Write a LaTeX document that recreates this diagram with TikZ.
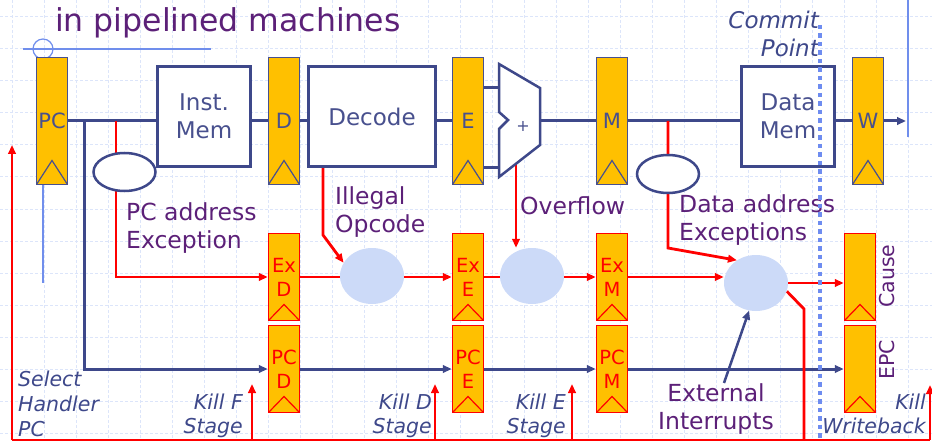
\documentclass[tikz,border=0pt]{standalone}
\usepackage{fontspec}
\setmainfont{DejaVu Sans}
\usetikzlibrary{positioning,shapes.geometric,arrows.meta}
\pgfdeclarelayer{grid}
\pgfdeclarelayer{wires}
\pgfsetlayers{grid,wires,main}
\definecolor{wireblue}{RGB}{62,72,138}
\definecolor{regtext}{RGB}{72,80,142}
\definecolor{labpurple}{RGB}{92,32,120}
\definecolor{regorange}{RGB}{255,192,0}
\definecolor{circblue}{RGB}{204,218,248}
\definecolor{gridblue}{RGB}{220,229,250}
\definecolor{guideblue}{RGB}{112,142,236}
\definecolor{commitblue}{RGB}{110,140,240}
\definecolor{excred}{RGB}{255,0,0}

\begin{document}
\begin{tikzpicture}[x=1pt,y=-1pt,
  wire/.style={draw=wireblue,line width=3pt},
  exc/.style={draw=excred,line width=2.8pt},
  tip/.style={-{Triangle[length=9pt,width=7.5pt]}},
  unit/.style={rectangle,draw=wireblue,line width=3pt,fill=white,minimum height=100pt,inner sep=0pt,text=regtext,align=center,font=\fontsize{23}{28}\selectfont},
  regtop/.style={rectangle,draw=regtext,line width=1.5pt,fill=regorange,minimum width=31pt,minimum height=127pt,inner sep=0pt,text=regtext,font=\fontsize{21}{24}\selectfont,
    path picture={\draw[regtext,line width=1.2pt] (path picture bounding box.south west) -- ([yshift=24pt]path picture bounding box.south) -- (path picture bounding box.south east);}},
  regexc/.style={rectangle,draw=excred,line width=1.5pt,fill=regorange,minimum width=31pt,minimum height=87pt,inner sep=0pt,text=excred,align=center,font=\fontsize{19.5}{24}\selectfont,
    path picture={\draw[excred,line width=1.2pt] (path picture bounding box.south west) -- ([yshift=16pt]path picture bounding box.south) -- (path picture bounding box.south east);}},
  check/.style={ellipse,draw=wireblue,line width=2.5pt,fill=white,minimum width=62pt,minimum height=38pt,inner sep=0pt},
  merge/.style={ellipse,fill=circblue,minimum width=64pt,minimum height=56pt,inner sep=0pt},
  lbl/.style={inner sep=0pt,text=labpurple,align=left,font=\fontsize{23.5}{28}\selectfont},
  killlbl/.style={inner sep=0pt,text=wireblue,align=right,font=\fontsize{20.5}{24}\selectfont\itshape}]
\useasboundingbox (0,0) rectangle (932,441);

\begin{pgfonlayer}{grid}
  \foreach \gx in {12,44,...,908}
    \draw[gridblue,line width=1pt,dash pattern=on 3pt off 2pt] (\gx,0) -- (\gx,441);
  \foreach \gy in {17,49,...,433}
    \draw[gridblue,line width=1pt,dash pattern=on 3pt off 2pt] (0,\gy) -- (932,\gy);
  \draw[guideblue,line width=1.2pt] (23,49) -- (211,49);
  \draw[guideblue,line width=1.2pt] (43,49) circle (10);
  \draw[guideblue,line width=1.2pt] (43,184) -- (43,283);
  \draw[guideblue,line width=1.2pt] (908,0) -- (908,137);
\end{pgfonlayer}

\node[anchor=base west,inner sep=0pt,text=labpurple,font=\fontsize{31.5}{36}\selectfont] (title) at (55,32) {in pipelined machines};

\node[regtop] (pc) at (52,121) {PC};
\node[unit,minimum width=93pt] (instmem) at (204,116.5) {Inst.\\Mem};
\node[regtop] (dreg) at (284,121) {D};
\node[unit,minimum width=127pt] (decode) at (372,116.5) {Decode};
\node[regtop] (ereg) at (468,121) {E};
\node[regtop] (mreg) at (612,121) {M};
\node[unit,minimum width=93pt] (datamem) at (788,116.5) {Data\\Mem};
\node[regtop] (wreg) at (868,121) {W};

\draw[wireblue,line width=2.5pt,fill=white] (499,64) -- (540,88) -- (540,145) -- (499,177) -- (499,129) -- (508,120) -- (499,112) -- cycle;
\node[text=regtext,font=\fontsize{16}{18}\selectfont,inner sep=0pt] (plus) at (523,126) {+};
\coordinate (aluin1) at (499,88);
\coordinate (aluin2) at (499,168);
\coordinate (aluout) at (540,121);

\node[regexc] (exd) at (284,277) {Ex\\D};
\node[regexc] (exe) at (468,277) {Ex\\E};
\node[regexc] (exm) at (612,277) {Ex\\M};
\node[regexc] (cause) at (860,277) {};
\node[regexc] (pcd) at (284,369) {PC\\D};
\node[regexc] (pce) at (468,369) {PC\\E};
\node[regexc] (pcm) at (612,369) {PC\\M};
\node[regexc] (epc) at (860,369) {};
\node[lbl,rotate=90,font=\fontsize{20.5}{24}\selectfont] (causelbl) at (887,276) {Cause};
\node[lbl,rotate=90,font=\fontsize{20.5}{24}\selectfont] (epclbl) at (887,360) {EPC};

\node[check] (pcchk) at (124.5,172) {};
\node[check] (dachk) at (668,174) {};
\node[merge] (c1) at (372,276) {};
\node[merge] (c2) at (532,276) {};
\node[merge] (c3) at (756,283) {};

\node[lbl,anchor=north west] (lblpcx) at (126,202) {PC address\\Exception};
\node[lbl,anchor=north west] (lblill) at (335,186) {Illegal\\Opcode};
\node[lbl,anchor=north west] (lblovf) at (520,196) {Overflow};
\node[lbl,anchor=north west] (lbldax) at (679,194) {Data address\\Exceptions};
\node[lbl,anchor=north,align=center] (lblext) at (716,383) {External\\Interrupts};
\node[killlbl,anchor=north east,font=\fontsize{23}{28}\selectfont\itshape] (lblcommit) at (819,11) {Commit\\Point};
\node[killlbl,anchor=north west,align=left,font=\fontsize{20.5}{25}\selectfont\itshape] (lblsel) at (18,371) {Select\\Handler\\PC};
\node[killlbl,anchor=north east] (lblkf) at (243,394) {Kill F\\Stage};
\node[killlbl,anchor=north east] (lblkd) at (432,394) {Kill D\\Stage};
\node[killlbl,anchor=north east] (lblke) at (566,394) {Kill E\\Stage};
\node[killlbl,anchor=north east] (lblkw) at (926,394) {Kill\\Writeback};

\coordinate (pctap) at (84,121);
\coordinate (pcxtap) at (116,121);
\coordinate (illtap) at (323,168);
\coordinate (illbend) at (323,235);
\coordinate (ovftap) at (516,164);
\coordinate (datap) at (668,121);
\coordinate (dabend) at (668,248);
\coordinate (wout) at (906,121);
\coordinate (kwbend) at (804,309);
\coordinate (busl) at (12,440);
\coordinate (busr) at (930,440);
\coordinate (selpc) at (12,145);
\coordinate (kf) at (252,384);
\coordinate (kd) at (435,384);
\coordinate (ke) at (572,384);
\coordinate (kw) at (930,385);

\begin{pgfonlayer}{wires}
  \draw[wire] (pc.east) -- (pc.east -| instmem.west);
  \draw[wire] (instmem.east |- dreg.west) -- (dreg.west);
  \draw[wire] (dreg.east) -- (dreg.east -| decode.west);
  \draw[wire] (decode.east |- ereg.west) -- (ereg.west);
  \draw[wire] (ereg.east |- aluin1) -- (aluin1);
  \draw[wire] (ereg.east |- aluin2) -- (aluin2);
  \draw[wire] (aluout) -- (aluout -| mreg.west);
  \draw[wire] (mreg.east) -- (mreg.east -| datamem.west);
  \draw[wire] (datamem.east |- wreg.west) -- (wreg.west);
  \draw[wire,tip] (wreg.east) -- (wout);
  \draw[wire,tip] (pctap) |- (pcd.west);
  \draw[wire,tip] (pcd.east) -- (pce.west);
  \draw[wire,tip] (pce.east) -- (pcm.west);
  \draw[wire,tip] (pcm.east) -- (epc.west);
  \draw[wire,line width=2.5pt,tip] ([xshift=8pt]lblext.north) -- (c3.-104);

  \draw[exc,tip] (pcxtap) |- (exd.west);
  \draw[exc] (exd.east) -- (exd.east -| c1.west);
  \draw[exc,tip] (c1.east |- exe.west) -- (exe.west);
  \draw[exc] (exe.east) -- (exe.east -| c2.west);
  \draw[exc,tip] (c2.east |- exm.west) -- (exm.west);
  \draw[exc,tip] (exm.east) -- (exm.east -| c3.west);
  \draw[exc,tip] (c3.east) -- (c3.east -| cause.west);
  \draw[exc,tip] (illtap) -- (illbend) -- (c1.155);
  \draw[exc,tip] (ovftap) -- (ovftap |- c2.north);
  \draw[exc,tip] (datap) -- (dabend) -- (c3.130);
  \draw[exc] (c3.-15) -- (kwbend) -- (kwbend |- busl);
  \draw[exc] (busl) -- (busr);
  \draw[exc,tip] (busl) -- (selpc);
  \foreach \k in {kf,kd,ke,kw}
    \draw[exc,tip] (\k |- busl) -- (\k);
\end{pgfonlayer}

\draw[commitblue,line width=4.5pt,dash pattern=on 4.5pt off 4pt] (820,25) -- (820,441);
\end{tikzpicture}
\end{document}
